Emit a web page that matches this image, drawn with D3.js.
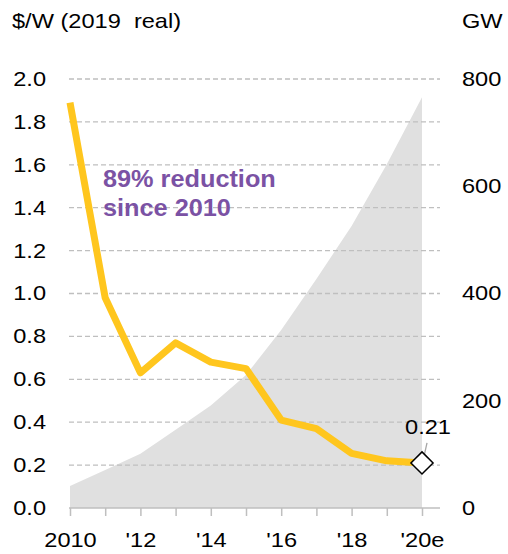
<!DOCTYPE html>
<html><head><meta charset="utf-8">
<script src="https://cdn.jsdelivr.net/npm/d3@7"></script>
<style>body{margin:0;background:#fff}svg{display:block;font-family:"Liberation Sans",Arial,sans-serif}</style>
</head><body><svg id="c" width="508" height="554"></svg>
<script>
const years = [2010,2011,2012,2013,2014,2015,2016,2017,2018,2019,2020];
const price = [1.89,0.98,0.63,0.77,0.68,0.65,0.41,0.37,0.255,0.22,0.21];
const capacity = [41,71,101,146,191,248,332,427,526,641,766];
const leftTicks = [0,0.2,0.4,0.6,0.8,1.0,1.2,1.4,1.6,1.8,2.0];
const rightTicks = [0,200,400,600,800];
const xLabels = {2010:"2010",2012:"'12",2014:"'14",2016:"'16",2018:"'18",2020:"'20e"};

const SX = 1.18;
const svg = d3.select("#c");
const x = d3.scaleLinear().domain([2010,2020]).range([70,422]);
const yL = d3.scaleLinear().domain([0,2]).range([508,79]);
const yR = d3.scaleLinear().domain([0,800]).range([508,79]);

function stxt(sel, xx, yy, str, size, anchor){
  return sel.append("text").attr("transform",`translate(${xx},${yy}) scale(${SX},1)`)
    .attr("font-size",size).attr("text-anchor",anchor||"start").attr("fill","#000").text(str);
}

// area
svg.append("path").datum(years.map((d,i)=>[d,capacity[i]]))
  .attr("fill","#e0e0e0")
  .attr("d", d3.area().x(d=>x(d[0])).y0(yR(0)).y1(d=>yR(d[1])));

// gridlines
svg.append("g").selectAll("line").data(leftTicks.filter(d=>d>0)).join("line")
  .attr("x1",69).attr("x2",440).attr("y1",d=>yL(d)).attr("y2",d=>yL(d))
  .attr("stroke","#bfbfbf").attr("stroke-width",1.3).attr("stroke-dasharray","5,3");

// x axis
const xAxis = d3.axisBottom(x).tickValues(years).tickSize(8).tickFormat(d=>xLabels[d]||"");
const gx = svg.append("g").attr("transform",`translate(0,${yL(0)})`).call(xAxis);
gx.select(".domain").attr("d","M69,0H440").attr("stroke","#bfbfbf").attr("stroke-width",1.5);
gx.selectAll(".tick line").attr("stroke","#bfbfbf").attr("stroke-width",1.5);
gx.selectAll(".tick text").attr("font-size",20).attr("fill","#000")
  .attr("y",null).attr("dy",null).attr("transform",`translate(0,39) scale(${SX},1)`)
  .attr("font-family","Liberation Sans,Arial,sans-serif");

// left axis
const gl = svg.append("g").attr("transform","translate(46,0)")
  .call(d3.axisLeft(yL).tickValues(leftTicks).tickSize(0).tickFormat(d3.format(".1f")));
gl.select(".domain").remove();
gl.selectAll("text").attr("font-size",20).attr("fill","#000").attr("x",0)
  .attr("transform",`scale(${SX},1)`)
  .attr("font-family","Liberation Sans,Arial,sans-serif");

// right axis
const gr = svg.append("g").attr("transform","translate(462,0)")
  .call(d3.axisRight(yR).tickValues(rightTicks).tickSize(0));
gr.select(".domain").remove();
gr.selectAll("text").attr("font-size",20).attr("fill","#000").attr("x",0)
  .attr("transform",`scale(${SX},1)`)
  .attr("font-family","Liberation Sans,Arial,sans-serif");

// titles
stxt(svg,12,28,"$/W (2019\u00a0 real)",20);
stxt(svg,462,28,"GW",20);

// price line
svg.append("path").datum(years.map((d,i)=>[d,price[i]]))
  .attr("fill","none").attr("stroke","#FFC61E").attr("stroke-width",7).attr("stroke-linejoin","round")
  .attr("d", d3.line().x(d=>x(d[0])).y(d=>yL(d[1])));

// annotation
const ann = svg.append("text").attr("fill","#7B52A4").attr("font-weight","bold").attr("font-size",23)
  .attr("transform","translate(103,0) scale(1.1,1)");
ann.append("tspan").attr("x",0).attr("y",187).text("89% reduction");
ann.append("tspan").attr("x",0).attr("y",216).text("since 2010");

// end marker
const lx = x(2020), ly = yL(price[10]);
svg.append("line").attr("x1",lx+1).attr("y1",ly-2).attr("x2",lx+5).attr("y2",ly-20)
  .attr("stroke","#a6a6a6").attr("stroke-width",1.3);
svg.append("path").attr("d",d3.symbol().type(d3.symbolDiamond2).size(312)())
  .attr("transform",`translate(${lx},${ly})`).attr("fill","#fff").attr("stroke","#000").attr("stroke-width",1.5);
stxt(svg,lx+6,434,"0.21",20,"middle");
</script></body></html>
